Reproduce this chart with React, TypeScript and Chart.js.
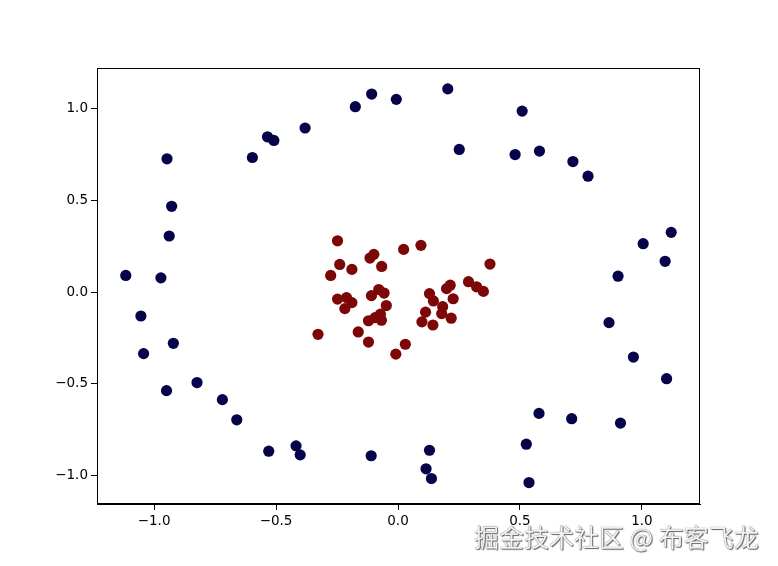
import React, { useEffect, useRef } from "react";
import { Chart, registerables } from "chart.js";

Chart.register(...registerables);

// Outer ring (class 0)
const outerX = [-0.108, -0.175, -0.007, -0.381, -0.535, -0.509, -0.597, -0.947, -0.928, -0.938, -1.116, -0.972,
  0.204, 0.509, 0.251, 0.480, 0.580, 0.717, 0.779, 1.120, 1.005, 1.095, 0.902,
  -1.054, -0.921, -1.043, -0.949, -0.824, -0.720, -0.661, -0.530, -0.418, -0.401, -0.110,
  0.865, 0.965, 1.101, 0.578, 0.712, 0.912, 0.526, 0.129, 0.115, 0.137, 0.537];
const outerY = [1.080, 1.011, 1.051, 0.895, 0.847, 0.827, 0.734, 0.727, 0.468, 0.306, 0.091, 0.078,
  1.108, 0.987, 0.778, 0.750, 0.769, 0.712, 0.632, 0.326, 0.264, 0.168, 0.087,
  -0.130, -0.279, -0.335, -0.537, -0.493, -0.586, -0.696, -0.867, -0.838, -0.887, -0.892,
  -0.166, -0.354, -0.472, -0.661, -0.690, -0.714, -0.829, -0.862, -0.963, -1.016, -1.038];

// Inner cluster (class 1)
const innerX = [-0.248, -0.115, -0.099, -0.239, -0.189, -0.276, -0.067, 0.023, 0.094, 0.377,
  0.129, 0.199, 0.214, 0.289, 0.322, 0.350, -0.248, -0.211, -0.189, -0.218,
  -0.109, -0.079, -0.057, -0.048, -0.121, -0.094, -0.072, -0.068, -0.328, -0.163,
  -0.121, -0.009, 0.030, 0.145, 0.226, 0.113, 0.183, 0.179, 0.098, 0.143, 0.218];
const innerY = [0.280, 0.186, 0.206, 0.151, 0.124, 0.091, 0.140, 0.233, 0.255, 0.153,
  -0.008, 0.019, 0.038, 0.057, 0.029, 0.004, -0.038, -0.030, -0.057, -0.090,
  -0.019, 0.014, -0.005, -0.073, -0.156, -0.139, -0.120, -0.153, -0.230, -0.217,
  -0.272, -0.338, -0.284, -0.048, -0.036, -0.109, -0.079, -0.117, -0.162, -0.179, -0.142];

const tickValues = [-1.0, -0.5, 0.0, 0.5, 1.0];
const tickLabels = ["\u22121.0", "\u22120.5", "0.0", "0.5", "1.0"];

const BLUE = "#07034a";
const RED = "#7d0707";

export default function App() {
  const ref = useRef<HTMLCanvasElement>(null);
  useEffect(() => {
    if (!ref.current) return;
    const frame = {
      id: "frame",
      afterDatasetsDraw(chart: any) {
        const { ctx, chartArea } = chart;
        ctx.save();
        ctx.strokeStyle = "#000";
        ctx.lineWidth = 1;
        ctx.strokeRect(chartArea.left + 0.5, chartArea.top + 0.5, chartArea.right - chartArea.left - 1, chartArea.bottom - chartArea.top - 1);
        ctx.restore();
      },
    };
    const fixTicks = (scale: any) => {
      scale.ticks = tickValues.map((v) => ({ value: v }));
    };
    const labelCb = (value: any) => {
      const i = tickValues.findIndex((v) => Math.abs(v - Number(value)) < 1e-9);
      return i >= 0 ? tickLabels[i] : "";
    };
    const font = { family: "DejaVu Sans", size: 13.5 };
    const chart = new Chart(ref.current, {
      type: "scatter",
      data: {
        datasets: [
          {
            data: outerX.map((x, i) => ({ x, y: outerY[i] })),
            backgroundColor: BLUE,
            borderWidth: 0,
            pointRadius: 5.6,
          },
          {
            data: innerX.map((x, i) => ({ x, y: innerY[i] })),
            backgroundColor: RED,
            borderWidth: 0,
            pointRadius: 5.6,
          },
        ],
      },
      options: {
        animation: false,
        responsive: false,
        events: [],
        layout: { padding: { left: 0, top: 68, right: 78, bottom: 0 } },
        plugins: { legend: { display: false }, tooltip: { enabled: false } },
        scales: {
          x: {
            type: "linear",
            min: -1.234,
            max: 1.238,
            afterBuildTicks: fixTicks,
            afterFit: (s: any) => { s.height = 62; },
            grid: { drawOnChartArea: false, drawTicks: true, tickLength: 6, color: "#000", tickColor: "#000" },
            border: { display: true, color: "#000", width: 1 },
            ticks: { color: "#000", font, padding: 3, maxRotation: 0, autoSkip: false, callback: labelCb },
          },
          y: {
            type: "linear",
            min: -1.155,
            max: 1.222,
            afterBuildTicks: fixTicks,
            afterFit: (s: any) => { s.width = 97; },
            grid: { drawOnChartArea: false, drawTicks: true, tickLength: 6, color: "#000", tickColor: "#000" },
            border: { display: true, color: "#000", width: 1 },
            ticks: { color: "#000", font, padding: 3, autoSkip: false, callback: labelCb },
          },
        },
      },
      plugins: [frame],
    });
    return () => chart.destroy();
  }, []);
  return (
    <div style={{ position: "absolute", left: 0, top: 0, width: 778, height: 566, background: "#fff" }}>
      <canvas ref={ref} width={778} height={566} style={{ display: "block" }} />
      <div
        style={{
          position: "absolute",
          left: 474,
          top: 522,
          fontFamily: "'Noto Sans CJK SC', sans-serif",
          fontSize: 25,
          lineHeight: "28px",
          color: "#f2f2f2",
          whiteSpace: "nowrap",
          textShadow: "0 0 1px #444, 1px 1px 1px #666",
        }}
      >
        掘金技术社区 @ 布客飞龙
      </div>
    </div>
  );
}
